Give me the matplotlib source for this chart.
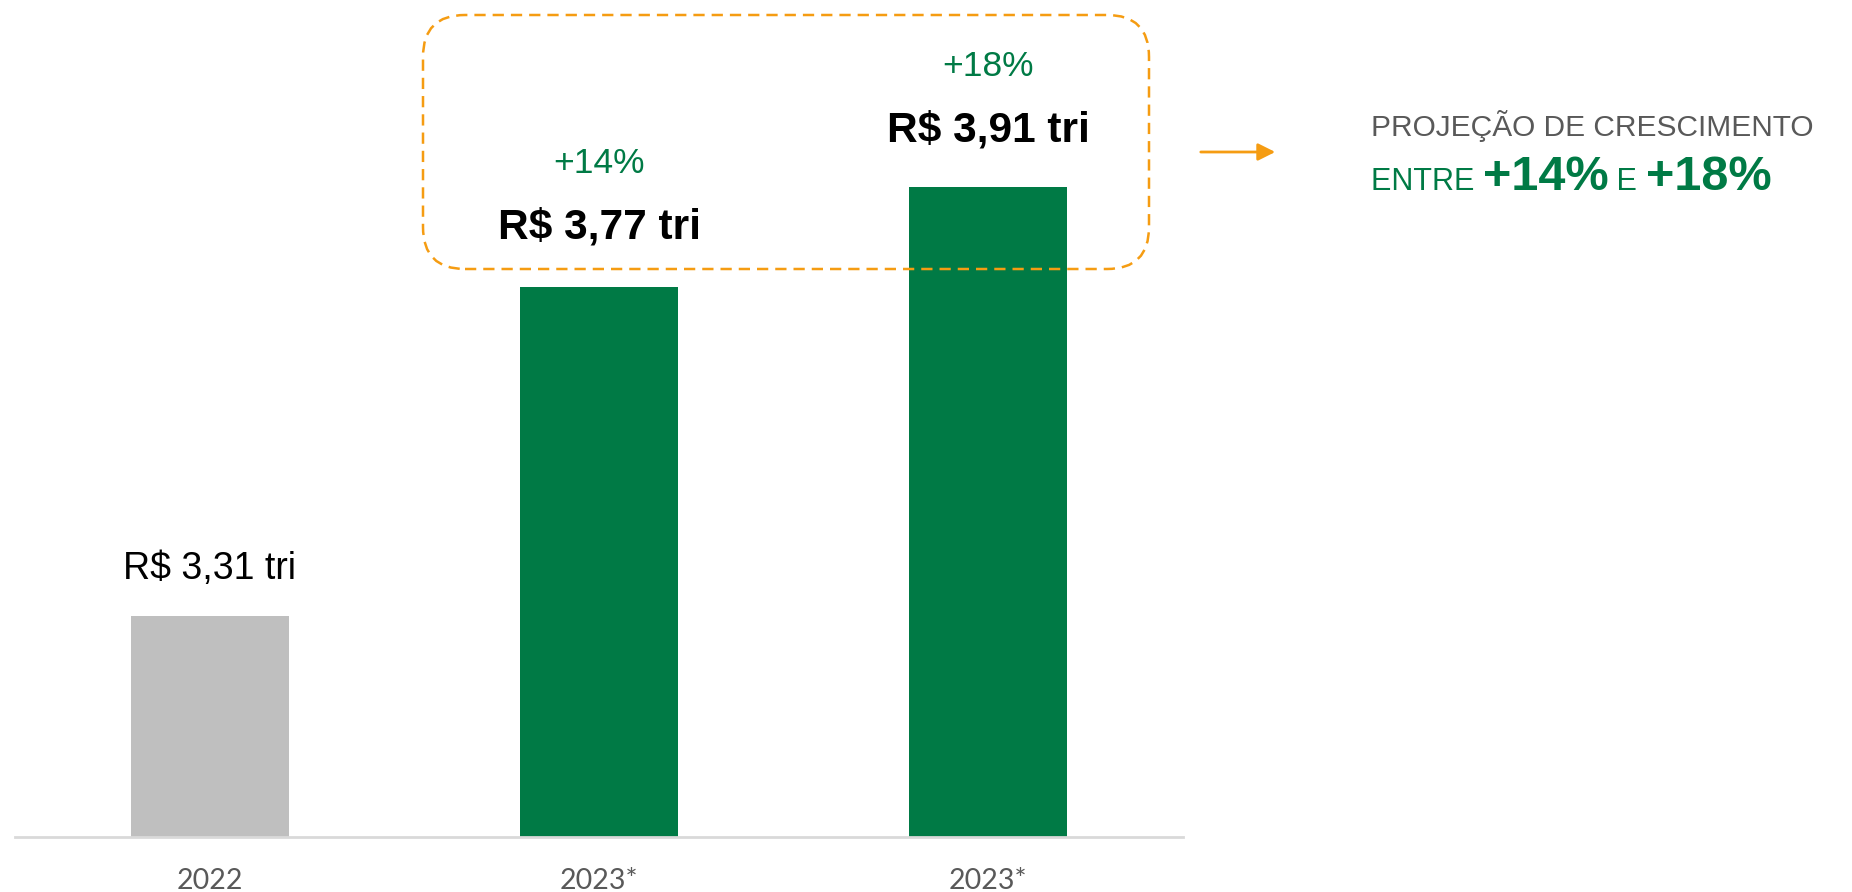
import matplotlib.pyplot as plt
from matplotlib.patches import FancyBboxPatch, FancyArrowPatch
from matplotlib.offsetbox import TextArea, HPacker, AnnotationBbox

years = ["2022", "2023*", "2023*"]
values = [3.31, 3.77, 3.91]
value_labels = ["R$ 3,31 tri", "R$ 3,77 tri", "R$ 3,91 tri"]
growth_labels = [None, "+14%", "+18%"]

GREEN = "#007A45"
GREY_BAR = "#BFBFBF"
ORANGE = "#F59C12"
TEXT_GREY = "#595959"

plt.rcParams["font.family"] = ["Liberation Sans", "DejaVu Sans"]

fig = plt.figure(figsize=(18.52, 8.92), dpi=100)
ax = fig.add_axes([15 / 1852, 55 / 892, 1168 / 1852, 837 / 892])

colors = [GREY_BAR, GREEN, GREEN]
x = range(len(values))
ax.bar(x, values, width=0.405, color=colors, zorder=2)
ax.set_xlim(-0.5, 2.5)
ax.set_ylim(3.0, 4.172)

for side in ["left", "right", "top"]:
    ax.spines[side].set_visible(False)
ax.spines["bottom"].set_color("#D9D9D9")
ax.spines["bottom"].set_linewidth(2)
ax.set_yticks([])
ax.set_xticks(list(x))
ax.set_xticklabels(years, fontsize=20.5, color=TEXT_GREY, family="Lato")
ax.tick_params(axis="x", length=0, pad=22)

# value labels above bars
ax.annotate(value_labels[0], (0, values[0]), xytext=(0, 33.5), textcoords="offset points",
            ha="center", va="center", fontsize=27, color="black")
ax.annotate(value_labels[1], (1, values[1]), xytext=(0, 43), textcoords="offset points",
            ha="center", va="center", fontsize=30.5, fontweight="bold", color="black")
ax.annotate(value_labels[2], (2, values[2]), xytext=(0, 41), textcoords="offset points",
            ha="center", va="center", fontsize=30.5, fontweight="bold", color="black")
ax.annotate(growth_labels[1], (1, values[1]), xytext=(0, 89), textcoords="offset points",
            ha="center", va="center", fontsize=25.5, color=GREEN)
ax.annotate(growth_labels[2], (2, values[2]), xytext=(0, 86.5), textcoords="offset points",
            ha="center", va="center", fontsize=25.5, color=GREEN)

# dashed rounded highlight box
box = FancyBboxPatch((4.23, 6.23), 7.26, 2.54,
                     boxstyle="round,pad=0,rounding_size=0.42",
                     transform=fig.dpi_scale_trans, fill=False,
                     edgecolor=ORANGE, linewidth=1.8,
                     linestyle=(0, (4.5, 2.8)), zorder=5)
fig.patches.append(box)

# arrow towards the note
fig.add_artist(FancyArrowPatch(
    (1198 / 1852, 1 - 152 / 892), (1278 / 1852, 1 - 152 / 892),
    transform=fig.transFigure, arrowstyle="-|>", mutation_scale=26,
    color=ORANGE, linewidth=2))

# note on the right
fig.text(1371 / 1852, 1 - 126 / 892, "PROJEÇÃO DE CRESCIMENTO",
         fontsize=21.5, color=TEXT_GREY, ha="left", va="center")

parts = [
    TextArea("ENTRE ", textprops=dict(fontsize=22, color=GREEN)),
    TextArea("+14%", textprops=dict(fontsize=35, fontweight="bold", color=GREEN)),
    TextArea(" E ", textprops=dict(fontsize=22, color=GREEN)),
    TextArea("+18%", textprops=dict(fontsize=35, fontweight="bold", color=GREEN)),
]
row = HPacker(children=parts, align="baseline", pad=0, sep=0)
ab = AnnotationBbox(row, (1371 / 1852, 1 - 178 / 892), xycoords="figure fraction",
                    box_alignment=(0, 0.5), frameon=False)
fig.add_artist(ab)

fig.savefig("out.png", dpi=100)
